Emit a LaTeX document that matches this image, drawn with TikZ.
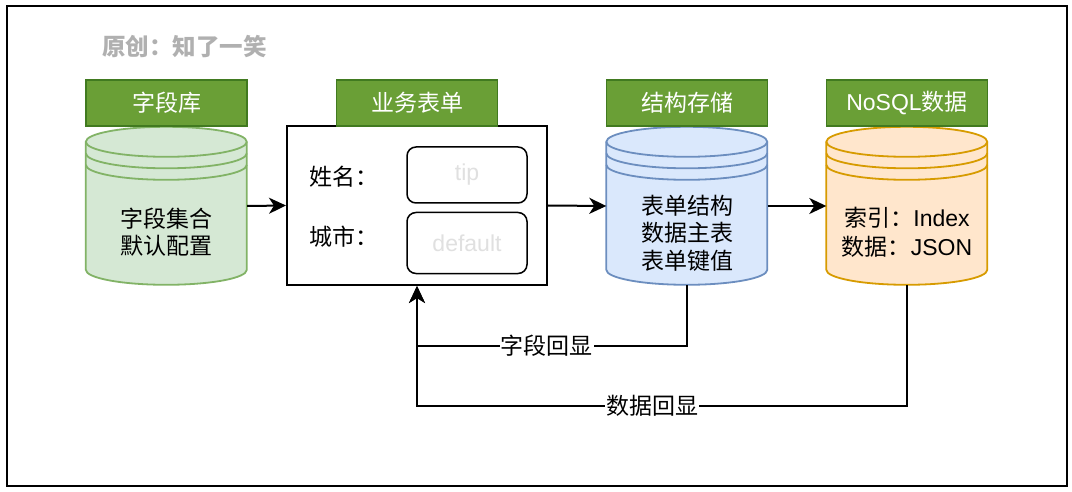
\documentclass[tikz,border=0pt]{standalone}
\usepackage{fontspec}
\setmainfont{Liberation Sans}
\newfontfamily\cjk{Noto Sans CJK SC}
\usepackage{xcolor}
\usetikzlibrary{arrows.meta,backgrounds}
\definecolor{ink}      {HTML}{000000}
\definecolor{stampc}   {HTML}{B0B0B0}
\definecolor{hintc}    {HTML}{E0E0E0}
\definecolor{hdrfill}  {HTML}{6A9F36}
\definecolor{hdrline}  {HTML}{417A20}
\definecolor{greenbg}  {HTML}{D5E8D4}
\definecolor{greenln}  {HTML}{82B366}
\definecolor{bluebg}   {HTML}{DAE8FC}
\definecolor{blueln}   {HTML}{6C8EBF}
\definecolor{orangebg} {HTML}{FFE6CC}
\definecolor{orangeln} {HTML}{D79B00}
\tikzset{
  hdr/.style      = {fill=hdrfill, draw=hdrline, line width=1.5pt, text=white,
                     minimum width=161, minimum height=46, inner sep=0pt,
                     font=\cjk\fontsize{23}{27}\selectfont},
  store/.style    = {minimum width=161, minimum height=158, inner sep=0pt},
  storetxt/.style = {align=center, text=ink, inner sep=0pt,
                     font=\cjk\fontsize{23}{27.5}\selectfont},
  panel/.style    = {draw=ink, fill=white, line width=2pt,
                     minimum width=260, minimum height=159},
  field/.style    = {draw=ink, rounded corners=9pt, line width=1.5pt,
                     minimum width=120, text=hintc,
                     font=\fontsize{23}{27}\selectfont},
  fieldlbl/.style = {text=ink, inner sep=0pt, font=\cjk\fontsize{23}{27}\selectfont},
  stamp/.style    = {text=stampc, inner sep=0pt, font=\cjk\bfseries\fontsize{23.5}{27}\selectfont},
  flow/.style     = {-{Stealth[length=17pt, width=16pt, inset=5pt]}, draw=ink, line width=2pt},
  lbl/.style      = {fill=white, text=ink, inner sep=1pt,
                     font=\cjk\fontsize{23}{27}\selectfont},
  frame/.style    = {draw=ink, line width=2pt},
}
% datastore body drawn round a store node: name, fill, line
\newcommand\datastore[3]{%
  \path[fill=#2, draw=#3, line width=1.8pt]
    (#1.north west) ++(0,15) -- ++(0,128)
    arc[start angle=180, end angle=0, x radius=80.5, y radius=15]
    -- ++(0,-128)
    arc[start angle=0, end angle=-180, x radius=80.5, y radius=15] -- cycle;
  \draw[draw=#3, line width=1.8pt]
    (#1.north west) ++(0,15) arc[start angle=180, end angle=0, x radius=80.5, y radius=15]
    (#1.north west) ++(0,26.5) arc[start angle=180, end angle=0, x radius=80.5, y radius=15]
    (#1.north west) ++(0,38) arc[start angle=180, end angle=0, x radius=80.5, y radius=15];
}

\begin{document}
\begin{tikzpicture}[x=1pt, y=-1pt]
  \useasboundingbox (0,0) rectangle (1072,492);
  \draw[frame] (7,6) rectangle (1067,486);
  \node[stamp, anchor=west] (stamp) at (102,47) {原创：知了一笑};

  \node[store] (lib) at (166.5,206) {};
  \node[storetxt] (libtxt) at (166.5,232) {字段集合\\默认配置};
  \node[hdr] (hlib) at (166.5,103) {字段库};

  \node[panel] (form) at (417,205.5) {};
  \node[hdr] (hform) at (417,103) {业务表单};
  \node[fieldlbl, anchor=west] (lname) at (309,177) {姓名：};
  \node[field, minimum height=56] (fname) at (467,175) {tip};
  \node[fieldlbl, anchor=west] (lcity) at (309,237) {城市：};
  \node[field, minimum height=61] (fcity) at (467,243) {default};

  \node[store] (meta) at (687,206) {};
  \node[storetxt] (metatxt) at (687,233) {表单结构\\数据主表\\表单键值};
  \node[hdr] (hmeta) at (687,103) {结构存储};

  \node[store] (nosql) at (907,206) {};
  \node[storetxt, font=\fontsize{23}{29}\selectfont] (nosqltxt) at (907,232)
    {{\cjk 索引：}Index\\{\cjk 数据：}JSON};
  \node[hdr, font=\fontsize{23}{27}\selectfont] (hnosql) at (907,103) {NoSQL{\cjk 数据}};

  \begin{scope}[on background layer]
    \fill[white] (0,0) rectangle (1072,492);
    \datastore{lib}{greenbg}{greenln}
    \datastore{meta}{bluebg}{blueln}
    \datastore{nosql}{orangebg}{orangeln}
  \end{scope}

  \draw[flow] (lib.east) -- (form.west);
  \draw[flow] (form.east) -- (meta.west);
  \draw[flow] (meta.east) -- (nosql.west);
  \draw[flow] (meta.south) -- ++(0,61) -| node[lbl, pos=0.26] (fback) {字段回显} (form.south);
  \draw[flow] (nosql.south) -- ++(0,121) -| node[lbl, pos=0.26] (dback) {数据回显} (form.south);
\end{tikzpicture}
\end{document}
